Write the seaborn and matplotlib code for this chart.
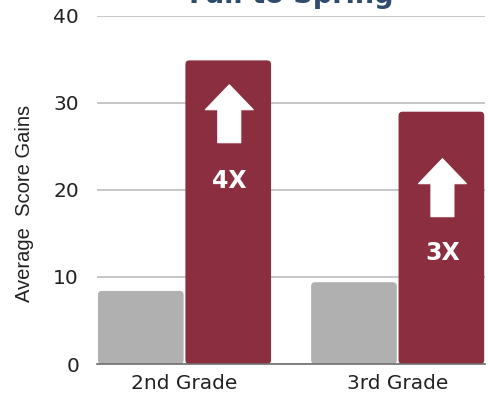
import matplotlib
matplotlib.use("Agg")
import matplotlib.pyplot as plt
from matplotlib.patches import FancyBboxPatch, Polygon
import seaborn as sns
import pandas as pd

# Average score gains by grade, fall to spring
grades = ["2nd Grade", "3rd Grade"]
comparison_gains = [8.4, 9.4]
program_gains = [34.9, 29.0]
multiplier_labels = ["4X", "3X"]
y_ticks = [0, 10, 20, 30, 40]

GRAY = "#B0B0B0"
RED = "#8B2E3F"
TITLE_BLUE = "#2F4B6E"

df = pd.DataFrame({
    "grade": grades * 2,
    "group": ["Comparison"] * len(grades) + ["Program"] * len(grades),
    "gain": comparison_gains + program_gains,
})

sns.set_theme(style="white")
plt.rcParams["font.family"] = ["DejaVu Sans"]

fig = plt.figure(figsize=(4.88, 4.0), dpi=100)
ax = fig.add_axes([0.199, 0.09, 0.795, 0.87])

sns.barplot(data=df, x="grade", y="gain", hue="group",
            palette=[GRAY, RED], saturation=1, width=0.82, gap=0.02,
            legend=False, ax=ax, zorder=3)

ax.set_xlim(-0.41, 1.41)
ax.set_ylim(0, 40)
ax.set_yticks(y_ticks)

# pixels per data unit, used to keep corner rounding and arrows undistorted
x_px = ax.get_position().width * fig.get_figwidth() * fig.dpi / 1.82
y_px = ax.get_position().height * fig.get_figheight() * fig.dpi / 40.0

# swap square bars for bars with softly rounded corners
radius_px = 4.0
r_x = radius_px / x_px
aspect = (radius_px / y_px) / r_x
for p in list(ax.patches):
    x, y = p.get_x(), p.get_y()
    w, h = p.get_width(), p.get_height()
    fc = p.get_facecolor()
    p.remove()
    ax.add_patch(FancyBboxPatch((x, y), w, h,
                                boxstyle=f"round,pad=0,rounding_size={r_x}",
                                mutation_aspect=aspect, fc=fc, ec="none",
                                zorder=3))

# white up-arrows and multiplier labels inside the program bars
bar_w = 0.82 / 2
arrow_tip = [32.1, 23.6]
label_y = [21.0, 12.8]
head_half = 24 / x_px
shaft_half = 11.5 / x_px
head_h = 25 / y_px
total_h = 58 / y_px
for i, lab in enumerate(multiplier_labels):
    cx = i + bar_w / 2 + 0.005
    tip = arrow_tip[i]
    base = tip - head_h
    bottom = tip - total_h
    pts = [(cx, tip), (cx + head_half, base), (cx + shaft_half, base),
           (cx + shaft_half, bottom), (cx - shaft_half, bottom),
           (cx - shaft_half, base), (cx - head_half, base)]
    ax.add_patch(Polygon(pts, closed=True, fc="white", ec="white",
                         lw=0.8, joinstyle="round", zorder=4))
    ax.text(cx, label_y[i], lab, ha="center", va="center", color="white",
            fontsize=17, fontweight="bold", zorder=5)

ax.grid(axis="y", color="#BDBDBD", lw=1.2, zorder=0)
ax.grid(axis="x", visible=False)
for side in ["top", "right", "left"]:
    ax.spines[side].set_visible(False)
ax.spines["bottom"].set_color("#6E6E6E")
ax.spines["bottom"].set_linewidth(1.2)
ax.spines["bottom"].set_zorder(4)
ax.tick_params(axis="both", length=0, labelsize=14.5, colors="#222222")
ax.tick_params(axis="y", pad=13)
ax.tick_params(axis="x", pad=7)
ax.set_xlabel("")
ax.set_ylabel("Average  Score Gains", fontsize=14.5, color="#222222",
              family=["Liberation Sans", "DejaVu Sans"])
ax.yaxis.set_label_coords(-0.163, 0.46)

fig.text(0.597, 0.992, "Fall to Spring", ha="center", va="baseline",
         fontsize=19.5, fontweight="bold", color=TITLE_BLUE)

fig.savefig("out.png", dpi=100)
